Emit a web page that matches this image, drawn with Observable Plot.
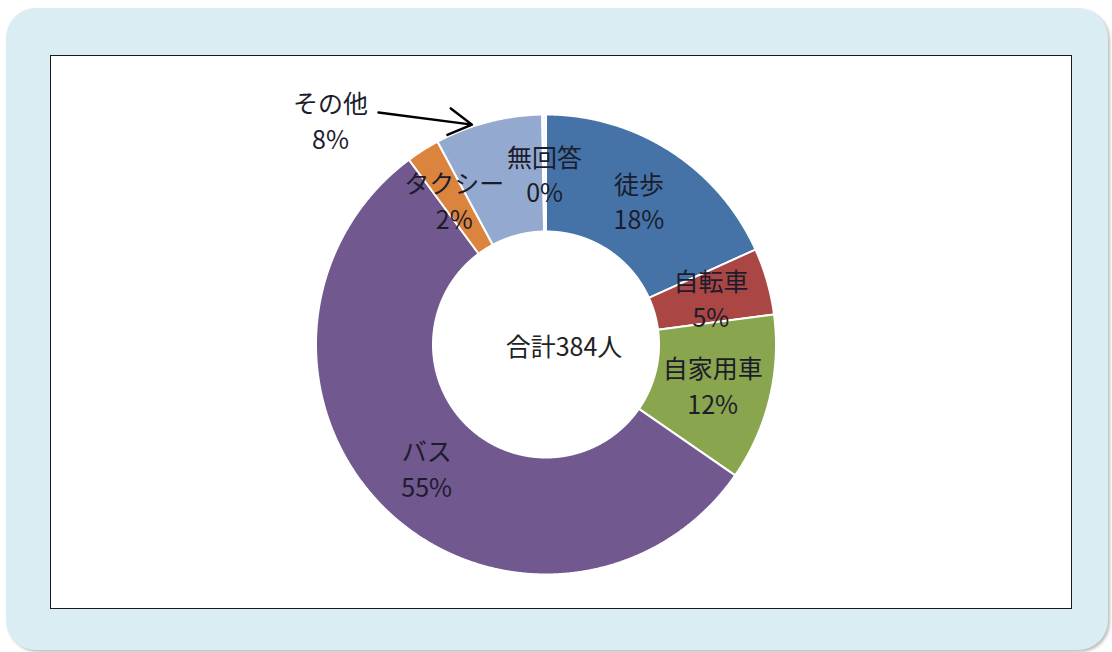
<!DOCTYPE html>
<html><head><meta charset="utf-8">
<script src="https://cdn.jsdelivr.net/npm/d3@7"></script>
<script src="https://cdn.jsdelivr.net/npm/@observablehq/plot@0.6"></script>
<style>
html,body{margin:0;padding:0;background:#fff;width:1112px;height:652px;overflow:hidden;}
#panel{position:absolute;left:6px;top:8px;width:1102px;height:642px;background:#daedf3;border-radius:30px;box-shadow:2px 2px 3px rgba(0,0,0,0.25);}
#box{position:absolute;left:50px;top:55px;width:1022px;height:554px;background:#fff;border:1.5px solid #1a1a1a;box-sizing:border-box;}
#chart{position:absolute;left:50px;top:55px;}
</style></head><body>
<div id="panel"></div><div id="box"></div><div id="chart"></div>
<script>
// --- data ---
const categories = ["徒歩", "自転車", "自家用車", "バス", "タクシー", "その他", "無回答"];
const counts = [70, 18, 45, 212, 9, 29, 1];
const colors = ["#4573a7", "#aa4644", "#89a54e", "#71588f", "#db843d", "#93a9cf", "#f3f6fb"];
const totalLabel = "合計384人";
const calloutCategory = "その他";

// --- geometry ---
const W = 1022, H = 554;
const cx = 495.5, cy = 289;          // donut centre inside the box (px)
const rOuter = 230, rInner = 113;
const total = d3.sum(counts);
const arcs = d3.pie().sort(null).value(d => d)(counts);

const poly = [];
arcs.forEach((a, i) => {
  const cat = categories[i];
  const n = Math.max(2, Math.ceil((a.endAngle - a.startAngle) / 0.004));
  const pts = [];
  for (let k = 0; k <= n; k++) {
    const t = a.startAngle + (a.endAngle - a.startAngle) * k / n;
    pts.push({cat, x: rOuter * Math.sin(t), y: rOuter * Math.cos(t)});
  }
  for (let k = n; k >= 0; k--) {
    const t = a.startAngle + (a.endAngle - a.startAngle) * k / n;
    pts.push({cat, x: rInner * Math.sin(t), y: rInner * Math.cos(t)});
  }
  pts.push({...pts[0]});
  poly.push(...pts);
});

const rMid = (rOuter + rInner) / 2;
const labels = arcs.map((a, i) => {
  const m = (a.startAngle + a.endAngle) / 2;
  return {
    cat: categories[i],
    text: `${categories[i]}\n${Math.round(counts[i] / total * 100)}%`,
    x: rMid * Math.sin(m),
    y: rMid * Math.cos(m)
  };
});
// move the callout label outside, with an arrow to its slice
const ci = categories.indexOf(calloutCategory);
const cl = labels[ci];
cl.x = -215.5; cl.y = 225;
const ca = arcs[ci];
const tip = ca.startAngle + (ca.endAngle - ca.startAngle) * 0.35;
const arrow = [{x1: -167.5, y1: 232, x2: (rOuter + 2) * Math.sin(tip), y2: (rOuter + 2) * Math.cos(tip)}];

const font = "'Noto Sans CJK JP', 'Noto Sans', sans-serif";

const chart = Plot.plot({
  width: W, height: H,
  margin: 0,
  style: {fontFamily: font, background: "transparent"},
  x: {domain: [-cx, W - cx], range: [0, W], axis: null},
  y: {domain: [-(H - cy), cy], range: [H, 0], axis: null},
  color: {type: "ordinal", domain: categories, range: colors},
  marks: [
    Plot.line(poly, {x: "x", y: "y", z: "cat", fill: "cat", stroke: "#fff", strokeWidth: 2, curve: "linear"}),
    Plot.text(labels, {x: "x", y: "y", text: "text", fontSize: 25, lineHeight: 1.42, fill: "#1c1c2c", fontFamily: font}),
    Plot.text([totalLabel], {x: () => 0, y: () => 0, text: d => d, dx: 18, dy: 3, fontSize: 25, fill: "#222", fontFamily: font}),
    Plot.arrow(arrow, {x1: "x1", y1: "y1", x2: "x2", y2: "y2", stroke: "#000", strokeWidth: 2.5, headLength: 16})
  ]
});
document.getElementById("chart").appendChild(chart);
</script>
</body></html>
